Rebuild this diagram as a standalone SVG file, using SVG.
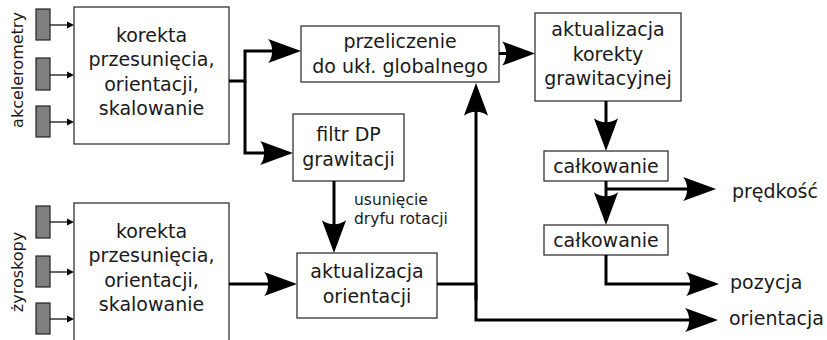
<svg xmlns="http://www.w3.org/2000/svg" width="827" height="340" viewBox="0 0 827 340">
<defs>
<style>
.box{fill:#fff;stroke:#333;stroke-width:1.3}
.sensor{fill:#808080;stroke:#222;stroke-width:1.2}
.t{font-family:"DejaVu Sans",sans-serif;font-size:19px;fill:#1a1a1a;text-anchor:middle}
.o{font-family:"DejaVu Sans",sans-serif;font-size:19px;fill:#1a1a1a}
.s{font-family:"DejaVu Sans",sans-serif;font-size:15.5px;fill:#1a1a1a}
.v{font-family:"DejaVu Sans",sans-serif;font-size:16px;fill:#1a1a1a;text-anchor:middle}
.c{fill:none;stroke:#000;stroke-width:3;stroke-linejoin:miter}
.ca{fill:none;stroke:#000;stroke-width:3;marker-end:url(#big)}
.sa{fill:none;stroke:#000;stroke-width:1.2;marker-end:url(#small)}
</style>
<marker id="big" markerUnits="userSpaceOnUse" viewBox="-34 -13 35 26" markerWidth="35" markerHeight="26" refX="-5" refY="0" orient="auto">
<path d="M0,0 L-32.8,-12.1 C-27.5,-4.9 -27.5,4.9 -32.8,12.1 Z" fill="#000"/>
</marker>
<marker id="small" markerUnits="userSpaceOnUse" viewBox="-8 -4 9 8" markerWidth="9" markerHeight="8" refX="-3" refY="0" orient="auto">
<path d="M0,0 L-7,-3.5 L-7,3.5 Z" fill="#000"/>
</marker>
</defs>

<text class="v" transform="translate(23,70) rotate(-90)">akcelerometry</text>
<text class="v" transform="translate(23,272) rotate(-90)">żyroskopy</text>

<g id="accel-sensors">
<rect class="sensor" x="36" y="9" width="14" height="31"/>
<rect class="sensor" x="36" y="58" width="14" height="32"/>
<rect class="sensor" x="36" y="106" width="14" height="31"/>
</g>
<g id="gyro-sensors">
<rect class="sensor" x="36" y="206" width="14" height="32"/>
<rect class="sensor" x="36" y="256" width="14" height="31"/>
<rect class="sensor" x="36" y="303" width="14" height="31"/>
</g>

<g id="accel-correction">
<rect class="box" x="74" y="7" width="155" height="137"/>
<text class="t" x="151.5" y="41.5">korekta</text>
<text class="t" x="151.5" y="66">przesunięcia,</text>
<text class="t" x="151.5" y="90.5">orientacji,</text>
<text class="t" x="151.5" y="114.5">skalowanie</text>
</g>

<g id="gyro-correction">
<rect class="box" x="74" y="203" width="155" height="142"/>
<text class="t" x="151.5" y="237.5">korekta</text>
<text class="t" x="151.5" y="262">przesunięcia,</text>
<text class="t" x="151.5" y="286.5">orientacji,</text>
<text class="t" x="151.5" y="310.5">skalowanie</text>
</g>

<g id="global">
<rect class="box" x="301" y="26" width="198" height="56"/>
<text class="t" x="400" y="48">przeliczenie</text>
<text class="t" x="400" y="72.5">do ukł. globalnego</text>
</g>

<g id="filter">
<rect class="box" x="293" y="114" width="111" height="67"/>
<text class="t" x="348.5" y="141">filtr DP</text>
<text class="t" x="348.5" y="166">grawitacji</text>
</g>

<g id="orient-update">
<rect class="box" x="297" y="253" width="140" height="65"/>
<text class="t" x="367" y="278">aktualizacja</text>
<text class="t" x="367" y="302.5">orientacji</text>
</g>

<g id="grav-update">
<rect class="box" x="535" y="13" width="146" height="88"/>
<text class="t" x="608" y="36">aktualizacja</text>
<text class="t" x="608" y="60.5">korekty</text>
<text class="t" x="608" y="85">grawitacyjnej</text>
</g>

<g id="integ1">
<rect class="box" x="544" y="151" width="124" height="30"/>
<text class="t" x="606" y="173">całkowanie</text>
</g>

<g id="integ2">
<rect class="box" x="544" y="225" width="124" height="30"/>
<text class="t" x="606" y="247">całkowanie</text>
</g>

<g id="connectors">
<path class="sa" d="M50,25 H71"/>
<path class="sa" d="M50,75 H71"/>
<path class="sa" d="M50,122 H71"/>
<path class="sa" d="M50,222 H71"/>
<path class="sa" d="M50,272 H71"/>
<path class="sa" d="M50,319 H71"/>

<path class="ca" d="M229,81 H245 V51 H296"/>
<path class="ca" d="M245,81 V153 H288"/>
<path class="ca" d="M499,53.5 H530"/>
<path class="ca" d="M334,181 V248"/>
<path class="ca" d="M229,284 H292"/>
<path class="c" d="M437,284 H476"/>
<path class="ca" d="M476,300 V88"/>
<path class="ca" d="M476,284 V320 H713"/>
<path class="ca" d="M606,101 V146"/>
<path class="ca" d="M606,181 V220"/>
<path class="ca" d="M606,189 H711"/>
<path class="ca" d="M606,255 V284 H714"/>
</g>

<g id="labels">
<text class="s" x="354" y="205">usunięcie</text>
<text class="s" x="354" y="224">dryfu rotacji</text>
<text class="o" x="732" y="198">prędkość</text>
<text class="o" x="730" y="288.5">pozycja</text>
<text class="o" x="729" y="325">orientacja</text>
</g>
</svg>
